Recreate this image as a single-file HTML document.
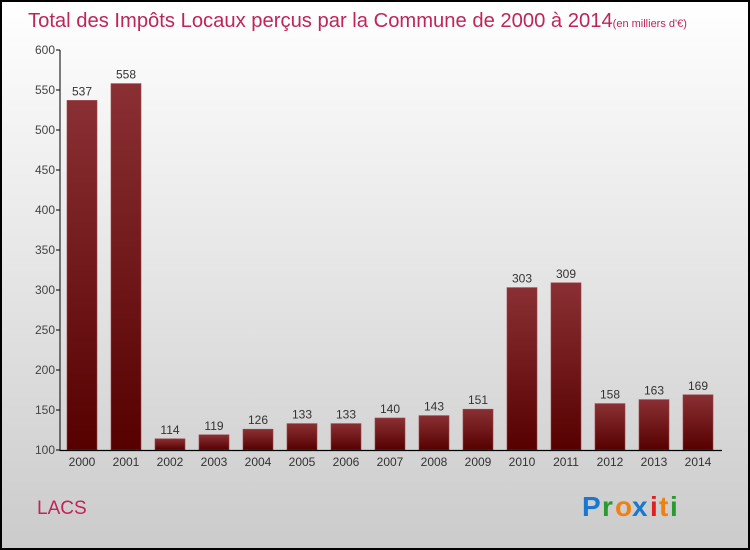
<!DOCTYPE html>
<html><head><meta charset="utf-8"><style>
body{margin:0;width:750px;height:550px;overflow:hidden}
svg{display:block}
text{font-family:"Liberation Sans",sans-serif}
</style></head><body>
<svg width="750" height="550">
<defs>
<linearGradient id="bg" x1="0" y1="0" x2="0" y2="1"><stop offset="0" stop-color="#ffffff"/><stop offset="1" stop-color="#cbcbcb"/></linearGradient>
<linearGradient id="bar" x1="0" y1="0" x2="0" y2="1"><stop offset="0" stop-color="#8a3034"/><stop offset="1" stop-color="#560000"/></linearGradient>
</defs>
<rect x="1" y="1" width="748" height="548" fill="url(#bg)" stroke="#000" stroke-width="2"/>
<text x="28" y="27" font-size="20.2" fill="#c0245a">Total des Impôts Locaux perçus par la Commune de 2000 à 2014<tspan font-size="11">(en milliers d'€)</tspan></text>
<g id="yaxis"></g>
<g id="bars"></g>
<g id="xaxis"></g>
<text x="37" y="514" font-size="19" fill="#c0245a">LACS</text>
<g font-size="28" font-weight="bold" font-family="'Liberation Sans',sans-serif">
<text x="582" y="516" fill="#1a78d0">P</text><text x="602" y="516" fill="#2a9a30">r</text><text x="615" y="516" fill="#f08010">o</text><text x="632" y="516" fill="#1a78d0">x</text><text x="650" y="516" fill="#e02020">i</text><text x="659" y="516" fill="#f08010">t</text><text x="670" y="516" fill="#2a9a30">i</text>
</g>
</svg>
<script>
const years=["2000","2001","2002","2003","2004","2005","2006","2007","2008","2009","2010","2011","2012","2013","2014"];
const values=[537,558,114,119,126,133,133,140,143,151,303,309,158,163,169];
const yTicks=[100,150,200,250,300,350,400,450,500,550,600];
const NS="http://www.w3.org/2000/svg";
const y=v=>450-(v-100)*0.8;
const x=i=>82+i*44;
function mk(t,a,p){const e=document.createElementNS(NS,t);for(const k in a)e.setAttribute(k,a[k]);p.appendChild(e);return e;}
const ya=document.getElementById('yaxis'),xa=document.getElementById('xaxis'),bg=document.getElementById('bars');
mk('line',{x1:60,y1:50,x2:60,y2:451,stroke:'#000','stroke-width':1},ya);
mk('line',{x1:60,y1:450.5,x2:722,y2:450.5,stroke:'#000','stroke-width':1.2},xa);
yTicks.forEach(v=>{
 const l=mk('line',{x1:56,y1:y(v),x2:60,y2:y(v),stroke:'#000'},ya);
 
 
 const t=mk('text',{x:55,y:y(v)+4,'font-size':12,'text-anchor':'end',fill:'#444'},ya);
 t.textContent=v;
 
 
});
values.forEach((v,i)=>{
 const r=mk('rect',{x:x(i)-15,y:y(v),width:30,height:450-y(v),fill:'url(#bar)',stroke:'#9a4448','stroke-width':0.6},bg);
 
 
 const t=mk('text',{x:x(i),y:y(v)-5,'font-size':12,'text-anchor':'middle',fill:'#333'},bg);
 t.textContent=v;
 
 
 const xl=mk('text',{x:x(i),y:466,'font-size':12,'text-anchor':'middle',fill:'#333'},xa);
 xl.textContent=years[i];
 
 
});
</script>
</body></html>
